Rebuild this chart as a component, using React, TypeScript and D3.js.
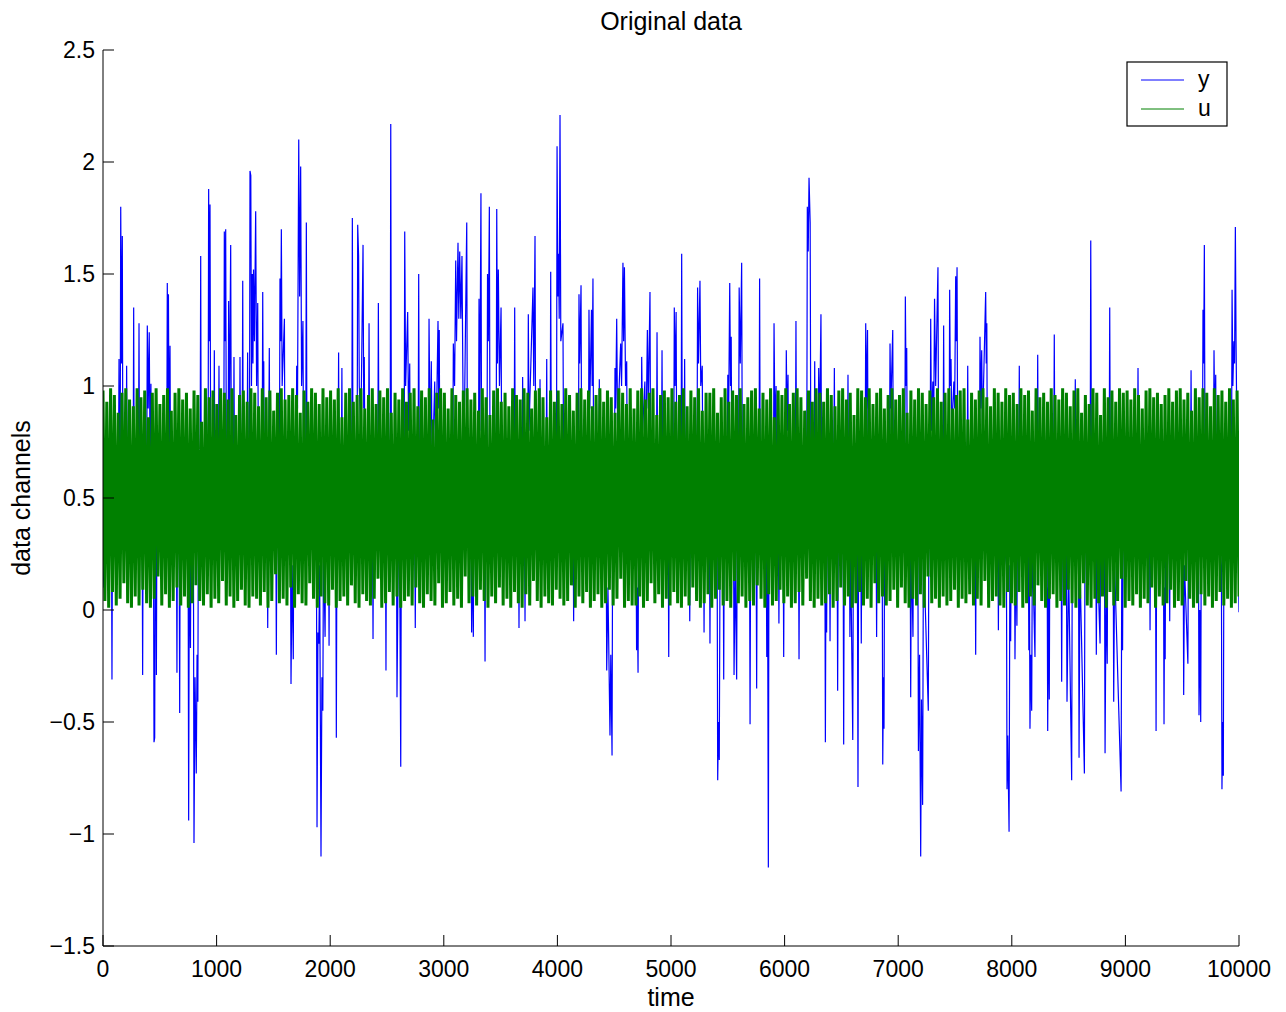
import React from 'react';
import * as d3 from 'd3';

// axis ticks
const xTicks = [0, 1000, 2000, 3000, 4000, 5000, 6000, 7000, 8000, 9000, 10000];
const yTicks = [-1.5, -1, -0.5, 0, 0.5, 1, 1.5, 2, 2.5];

const seriesNames = ['y', 'u'];
const seriesColors = ['#0000ff', '#008000'];

// output y: [time, value] samples (spikes, the rest sits under the green band)
const ySamples: [number, number][] = [
  [0, .1], [40, .5], [74, .45], [79, -.31], [84, .5],
  [136, .6], [141, 1.12], [146, .5], [151, .6], [156, 1.8], [163, 1.1], [170, 1.67], [175, .55],
  [203, .5], [208, 1.09], [213, .6], [265, .5], [270, 1.35], [275, .5], [312, .6], [317, 1.28], [322, .5],
  [344, .5], [349, -.29], [354, .5],
  [385, .6], [390, 1.27], [398, .9], [407, 1.24], [414, .7], [422, 1.01], [427, .5],
  [444, .4], [449, -.59], [455, -.57], [460, .4], [465, .5], [470, -.29], [475, .5],
  [561, .6], [566, 1.46], [571, .9], [576, 1.41], [582, .7], [590, 1.18], [595, .5],
  [646, .4], [651, -.28], [656, .5], [670, .4], [675, -.46], [680, .5],
  [749, .4], [754, -.94], [760, .3], [770, -.17], [775, .4], [796, .3], [801, -1.04], [810, -.3], [821, -.73], [828, -.2], [835, -.41], [840, .5],
  [855, .6], [860, 1.58], [865, .5],
  [925, .6], [930, 1.88], [936, 1.2], [942, 1.81], [948, .6],
  [975, .5], [980, 1.16], [985, .5], [1016, .6], [1021, 1.09], [1026, .5],
  [1063, .6], [1068, 1.69], [1074, 1.2], [1080, 1.7], [1086, .6],
  [1101, .6], [1106, 1.38], [1112, .8], [1124, 1.63], [1130, .6],
  [1148, .5], [1153, 1.13], [1158, .5], [1201, .5], [1206, 1.13], [1211, .6],
  [1225, .6], [1230, 1.47], [1235, .5], [1268, .6], [1273, 1.15], [1278, .6],
  [1289, .6], [1294, 1.96], [1301, 1.94], [1307, 1.0], [1314, 1.5], [1320, 1.1], [1325, 1.52], [1333, 1.2], [1344, 1.78], [1352, 1.0], [1362, 1.37], [1368, .6],
  [1401, .6], [1406, 1.42], [1411, .8], [1415, 1.11], [1420, .5],
  [1445, .4], [1450, -.08], [1457, .6], [1464, 1.17], [1469, .5],
  [1521, .4], [1526, -.2], [1531, .5],
  [1553, .6], [1558, 1.48], [1564, 1.2], [1570, 1.7], [1577, 1.0], [1597, 1.3], [1602, .5],
  [1650, .4], [1655, -.33], [1665, .2], [1675, -.22], [1680, .5],
  [1700, .6], [1705, 1.09], [1712, .9], [1723, 2.1], [1731, 1.4], [1740, 1.98], [1748, 1.0], [1760, 1.29], [1766, .6], [1785, .7], [1790, 1.73], [1796, .5],
  [1879, .3], [1884, -.97], [1892, -.1], [1900, -.15], [1907, .2], [1919, -1.1], [1927, -.3], [1935, -.45], [1941, .3], [1955, -.12], [1960, .4], [1985, .4], [1990, -.16], [1995, .5],
  [2049, .4], [2054, -.57], [2060, .5], [2069, .6], [2074, 1.15], [2079, .5],
  [2098, .6], [2103, 1.08], [2108, .5], [2190, .6], [2195, 1.75], [2201, .5],
  [2237, .6], [2242, 1.72], [2250, 1.58], [2256, 1.0], [2270, .8], [2289, 1.63], [2295, .9], [2300, 1.13], [2306, .6],
  [2337, .6], [2342, 1.28], [2348, .5], [2372, .4], [2377, -.13], [2382, .5],
  [2419, .6], [2424, 1.37], [2430, .5], [2486, .4], [2491, -.27], [2496, .5],
  [2528, .6], [2533, 2.17], [2539, .6],
  [2583, .4], [2588, -.39], [2600, .3], [2612, .2], [2621, -.7], [2627, .5],
  [2651, .6], [2656, 1.69], [2664, 1.0], [2682, 1.33], [2690, .8], [2700, 1.1], [2706, .5],
  [2744, .4], [2749, -.08], [2755, .5], [2774, .6], [2779, 1.5], [2785, .5],
  [2865, .6], [2870, 1.3], [2880, .7], [2890, 1.11], [2898, .6], [2920, 1.02], [2928, .6], [2949, 1.29], [2955, .9], [2960, 1.25], [2966, .5],
  [3079, .6], [3084, 1.19], [3095, 1.0], [3105, 1.56], [3112, 1.2], [3125, 1.64], [3132, 1.3], [3140, 1.6], [3150, 1.3], [3160, 1.58], [3170, .9], [3180, .8], [3202, 1.73], [3208, .6],
  [3240, .4], [3245, -.1], [3252, .3], [3260, -.12], [3265, .5],
  [3305, .6], [3310, 1.39], [3316, .8], [3327, 1.86], [3333, .6],
  [3358, .4], [3363, -.23], [3368, .5],
  [3380, .6], [3385, 1.5], [3392, 1.2], [3401, 1.8], [3407, .6],
  [3461, .6], [3466, 1.79], [3472, 1.1], [3480, 1.52], [3490, 1.0], [3504, 1.35], [3510, .6],
  [3619, .6], [3624, 1.35], [3630, .5], [3657, .4], [3662, -.08], [3668, .5],
  [3689, .6], [3694, 1.04], [3700, .5], [3710, .4], [3715, -.05], [3720, .5],
  [3739, .6], [3744, 1.32], [3750, .8], [3785, 1.44], [3792, 1.0], [3803, 1.67], [3809, .6],
  [3842, .6], [3847, 1.03], [3852, .5], [3901, .6], [3906, 1.12], [3911, .5],
  [3936, .6], [3941, 1.51], [3947, .6],
  [3992, .6], [3997, 2.07], [4004, 1.4], [4010, 1.59], [4016, 1.3], [4023, 2.21], [4030, 1.2], [4049, 1.28], [4055, .6],
  [4138, .4], [4143, -.05], [4148, .5],
  [4185, .6], [4190, 1.41], [4196, 1.1], [4208, 1.45], [4214, .6],
  [4273, .6], [4278, 1.34], [4285, .9], [4300, 1.34], [4306, 1.0], [4313, 1.48], [4319, .6],
  [4364, .6], [4369, 1.03], [4375, .5],
  [4429, .4], [4434, -.27], [4445, .1], [4463, -.56], [4470, -.2], [4481, -.65], [4487, .5],
  [4502, .6], [4507, 1.08], [4513, .9], [4522, 1.3], [4530, .8], [4557, 1.19], [4565, 1.0], [4577, 1.55], [4583, 1.2], [4590, 1.53], [4600, 1.0], [4610, 1.11], [4616, .5],
  [4692, .4], [4697, -.18], [4703, .1], [4710, -.28], [4716, .5],
  [4737, .6], [4742, 1.13], [4750, .8], [4770, 1.02], [4776, .6], [4792, 1.25], [4800, .9], [4815, 1.42], [4821, .6],
  [4872, .6], [4877, 1.24], [4883, .5], [4916, .6], [4921, 1.16], [4927, .5],
  [4975, .4], [4980, -.21], [4986, .5],
  [5024, .6], [5029, 1.35], [5036, 1.0], [5045, 1.33], [5051, .6],
  [5089, .6], [5094, 1.59], [5100, .6], [5115, .6], [5120, 1.12], [5126, .5],
  [5160, .4], [5165, -.05], [5171, .5],
  [5229, .6], [5234, 1.44], [5242, 1.1], [5255, 1.47], [5262, 1.0], [5275, 1.09], [5281, .5],
  [5286, .4], [5291, -.1], [5297, .5], [5338, .4], [5343, -.15], [5349, .5],
  [5406, .3], [5411, -.76], [5418, -.5], [5425, -.67], [5432, .3],
  [5459, .4], [5464, -.31], [5470, .5],
  [5495, .6], [5500, 1.05], [5508, .9], [5517, 1.46], [5524, 1.0], [5530, 1.22], [5536, .5],
  [5550, .4], [5555, -.29], [5565, .2], [5578, -.31], [5584, .5],
  [5595, .6], [5600, 1.44], [5610, 1.1], [5622, 1.55], [5628, .6],
  [5691, .4], [5696, -.51], [5702, .5], [5749, .4], [5754, -.35], [5760, .5],
  [5775, .6], [5780, 1.48], [5786, .5],
  [5838, .4], [5843, -.21], [5850, .2], [5857, -1.15], [5863, .5],
  [5902, .6], [5907, 1.28], [5915, .8], [5925, 1.0], [5931, .5],
  [5945, .4], [5950, -.06], [5956, .5], [5987, .4], [5992, -.21], [5998, .5],
  [6010, .6], [6015, 1.16], [6022, .8], [6030, 1.05], [6036, .5],
  [6095, .6], [6100, 1.29], [6106, .5], [6122, .4], [6127, -.22], [6133, .5],
  [6195, .6], [6200, 1.8], [6208, 1.6], [6215, 1.93], [6225, 1.73], [6231, .6],
  [6260, .6], [6265, 1.11], [6271, .5],
  [6295, .6], [6300, 1.08], [6308, .8], [6320, 1.32], [6326, .5],
  [6354, .4], [6359, -.59], [6364, .2], [6370, -.1], [6376, .5], [6395, .4], [6400, -.14], [6406, .5],
  [6433, .6], [6438, 1.08], [6444, .5], [6462, .4], [6467, -.36], [6473, .5],
  [6515, .4], [6520, -.6], [6526, .5], [6553, .6], [6558, 1.05], [6563, .5],
  [6570, .4], [6575, -.12], [6581, .3], [6600, -.58], [6606, .4], [6640, .3], [6646, -.79], [6652, .4], [6670, .4], [6675, -.15], [6681, .5],
  [6709, .6], [6714, 1.28], [6721, .9], [6730, 1.25], [6736, .5],
  [6805, .4], [6810, -.12], [6816, .5],
  [6859, .3], [6864, -.69], [6870, -.3], [6875, -.53], [6881, .5],
  [6923, .6], [6928, 1.19], [6935, .9], [6952, 1.25], [6958, .5],
  [7058, .6], [7063, 1.4], [7069, 1.0], [7075, 1.17], [7081, .5],
  [7105, .4], [7110, -.39], [7116, .3], [7130, -.12], [7136, .5],
  [7173, .3], [7178, -.63], [7188, -.2], [7198, -1.1], [7205, -.4], [7215, -.87], [7222, .3], [7265, -.45], [7271, .5],
  [7281, .6], [7286, 1.3], [7293, .8], [7305, 1.02], [7312, .8], [7320, 1.39], [7330, 1.0], [7350, 1.53], [7356, .6],
  [7395, .6], [7400, 1.27], [7406, .6],
  [7448, .6], [7453, 1.43], [7459, 1.0], [7465, 1.12], [7472, .8], [7490, 1.02], [7497, .9], [7506, 1.49], [7512, 1.2], [7518, 1.53], [7524, .6],
  [7607, .6], [7612, 1.09], [7618, .5], [7677, .4], [7682, -.2], [7688, .5],
  [7715, .6], [7720, 1.22], [7727, .9], [7735, 1.16], [7742, .8], [7770, 1.42], [7775, 1.1], [7780, 1.28], [7786, .5],
  [7877, .4], [7882, -.09], [7888, .5],
  [7953, .2], [7958, -.8], [7964, -.56], [7976, -.99], [7983, .2], [7990, -.14], [7996, .4],
  [8023, .4], [8028, -.22], [8036, .3], [8045, -.07], [8051, .5],
  [8061, .6], [8066, 1.09], [8072, .5],
  [8145, .4], [8150, -.18], [8155, .2], [8160, -.53], [8167, -.2], [8175, -.45], [8181, .3], [8204, -.21], [8210, .5],
  [8223, .6], [8228, 1.14], [8234, .5],
  [8311, .3], [8316, -.54], [8323, .1], [8330, -.4], [8336, .5],
  [8369, .6], [8374, 1.23], [8380, .5],
  [8434, .4], [8439, -.32], [8445, .4], [8480, .3], [8486, -.41], [8500, .2], [8527, -.76], [8533, .4],
  [8554, .6], [8559, 1.03], [8565, .5],
  [8587, .3], [8592, -.66], [8600, .2], [8639, -.73], [8645, .5],
  [8690, .6], [8695, 1.65], [8701, .6],
  [8739, .4], [8744, -.2], [8750, .3], [8777, -.15], [8783, .5],
  [8816, .3], [8821, -.64], [8830, .1], [8840, -.24], [8846, .5],
  [8857, .6], [8862, 1.35], [8868, .5],
  [8892, .4], [8897, -.41], [8905, .2], [8962, -.81], [8968, .2], [8975, -.18], [8981, .5],
  [9106, .6], [9111, 1.08], [9117, .5], [9212, .4], [9217, -.09], [9223, .5],
  [9265, .3], [9270, -.54], [9276, .5],
  [9335, .3], [9340, -.51], [9345, .1], [9350, -.22], [9356, .5], [9385, .4], [9390, -.05], [9396, .5],
  [9508, .4], [9513, -.38], [9520, .2], [9550, -.24], [9556, .5],
  [9573, .6], [9578, 1.07], [9584, .5],
  [9643, .3], [9648, -.47], [9655, .0], [9663, -.5], [9669, .5],
  [9678, .6], [9683, 1.34], [9689, 1.1], [9695, 1.63], [9701, .6],
  [9775, .6], [9780, 1.16], [9787, .8], [9795, 1.05], [9801, .5],
  [9845, .2], [9850, -.8], [9856, -.5], [9862, -.74], [9868, .5],
  [9934, .6], [9939, 1.43], [9946, 1.0], [9955, 1.2], [9961, 1.1], [9968, 1.71], [9974, 1.2], [9985, .6], [10000, -.01],
];

// input u: evenly spaced samples over 0..10000, alternating near the top and bottom of the band
const uValues = [
  .98, .04, .93, .01, .99, .08, .96, .02, .88, .05, .97, .12, .99, .03, .94, .01, .91, .06, .99, .02,
  .95, .09, .98, .03, .86, .01, .97, .05, .99, .15, .92, .02, .96, .07, .99, .01, .89, .04, .97, .1,
  .99, .02, .94, .06, .97, .01, .9, .03, .98, .11, .96, .04, .84, .02, .99, .07, .95, .01, .98, .05,
  .92, .03, .99, .13, .97, .02, .94, .06, .99, .01, .87, .04, .96, .09, .98, .02, .93, .01, .99, .06,
  .97, .05, .91, .02, .99, .08, .95, .01, .98, .04, .89, .16, .97, .03, .99, .05, .94, .02, .96, .1,
  .99, .01, .96, .07, .88, .03, .98, .02, .93, .12, .99, .05, .97, .01, .92, .06, .99, .03, .95, .02,
  .98, .09, .94, .01, .99, .04, .86, .06, .97, .02, .99, .11, .93, .03, .96, .01, .99, .07, .9, .04,
  .96, .02, .99, .05, .92, .14, .98, .01, .95, .03, .99, .08, .88, .02, .97, .06, .94, .01, .99, .04,
  .93, .06, .97, .02, .99, .1, .91, .03, .98, .01, .95, .07, .99, .04, .85, .02, .97, .12, .99, .01,
  .97, .03, .9, .08, .99, .02, .96, .05, .93, .01, .98, .15, .99, .03, .94, .06, .97, .02, .89, .09,
  .99, .04, .95, .01, .87, .06, .98, .03, .99, .1, .93, .02, .97, .05, .91, .01, .99, .08, .96, .03,
  .94, .01, .99, .07, .97, .02, .9, .13, .98, .04, .99, .01, .95, .06, .86, .03, .98, .02, .93, .09,
  .98, .05, .92, .02, .99, .04, .96, .11, .89, .01, .97, .06, .99, .03, .94, .08, .98, .01, .91, .04,
  .96, .07, .99, .01, .93, .03, .98, .09, .95, .02, .88, .05, .99, .14, .97, .01, .92, .04, .99, .02,
  .9, .02, .98, .06, .99, .01, .94, .04, .97, .12, .99, .03, .87, .07, .96, .01, .98, .05, .95, .02,
  .99, .08, .93, .03, .96, .01, .99, .06, .91, .02, .98, .1, .95, .04, .99, .01, .89, .03, .97, .07,
  .97, .01, .99, .05, .88, .09, .95, .02, .99, .04, .93, .01, .98, .13, .96, .03, .99, .06, .92, .01,
  .95, .04, .98, .02, .99, .11, .9, .05, .97, .01, .94, .07, .99, .02, .86, .04, .98, .09, .96, .03,
  .99, .06, .92, .01, .97, .03, .99, .08, .95, .02, .89, .14, .98, .04, .93, .01, .99, .05, .97, .02,
  .93, .03, .99, .07, .96, .01, .91, .04, .98, .1, .99, .02, .94, .06, .97, .01, .87, .03, .99, .08,
  .98, .02, .95, .05, .99, .01, .92, .12, .97, .03, .99, .06, .9, .02, .96, .04, .99, .09, .94, .01,
  .96, .1, .99, .03, .88, .01, .98, .05, .94, .02, .99, .07, .97, .01, .92, .15, .98, .03, .95, .05,
  .99, .01, .93, .06, .97, .02, .99, .04, .9, .09, .96, .01, .98, .05, .99, .03, .85, .07, .97, .02,
  .94, .05, .98, .02, .99, .13, .95, .01, .91, .04, .99, .06, .97, .02, .93, .01, .99, .08, .96, .03,
  .97, .02, .92, .08, .99, .01, .96, .03, .98, .06, .89, .02, .99, .11, .95, .04, .97, .01, .93, .05,
  .99, .07, .96, .01, .94, .04, .99, .02, .97, .09, .91, .03, .98, .01, .99, .05, .88, .12, .96, .02,
  .92, .01, .99, .05, .97, .03, .87, .06, .99, .01, .95, .08, .98, .02, .93, .04, .99, .14, .97, .01,
  .98, .04, .94, .02, .99, .07, .96, .01, .9, .05, .98, .03, .99, .1, .95, .01, .97, .06, .92, .02,
  .96, .03, .99, .09, .93, .01, .98, .04, .99, .02, .94, .13, .97, .05, .89, .01, .99, .03, .95, .07,
  .99, .02, .97, .06, .91, .01, .99, .04, .96, .08, .98, .02, .93, .05, .99, .01, .94, .03, .98, .06,
];

const W = 1286;
const H = 1012;
const left = 103;
const right = 1239;
const top = 50;
const bottom = 946;
const font = "'Liberation Sans', Arial, Helvetica, sans-serif";

const fmt = (v: number) => String(v).replace('-', '\u2212');

export default function App() {
  const x = d3.scaleLinear().domain([0, 10000]).range([left, right]);
  const y = d3.scaleLinear().domain([-1.5, 2.5]).range([bottom, top]);

  const uSamples: [number, number][] = uValues.map((v, i) => [(i * 10000) / (uValues.length - 1), v]);

  const line = d3
    .line<[number, number]>()
    .x((d) => x(d[0]))
    .y((d) => y(d[1]));

  return (
    <svg
      width={W}
      height={H}
      style={{ position: 'absolute', left: 0, top: 0, background: '#fff' }}
      fontFamily={font}
    >
      <defs>
        <clipPath id="plotClip">
          <rect x={left} y={top} width={right - left} height={bottom - top} />
        </clipPath>
      </defs>

      <g clipPath="url(#plotClip)">
        <path d={line(ySamples) || ''} fill="none" stroke={seriesColors[0]} strokeWidth={1.2} />
        <path
          d={line(uSamples) || ''}
          fill="none"
          stroke={seriesColors[1]}
          strokeWidth={3}
          strokeLinejoin="bevel"
        />
      </g>

      {/* axes */}
      <line x1={left} x2={left} y1={top} y2={bottom} stroke="#000" strokeWidth={1} />
      <line x1={left} x2={right} y1={bottom} y2={bottom} stroke="#000" strokeWidth={1} />

      {yTicks.map((t) => (
        <g key={'y' + t}>
          <line x1={left} x2={left + 11} y1={y(t)} y2={y(t)} stroke="#000" strokeWidth={1} />
          <text x={left - 8} y={y(t) + 8} textAnchor="end" fontSize={23} fill="#000">
            {fmt(t)}
          </text>
        </g>
      ))}
      {xTicks.map((t) => (
        <g key={'x' + t}>
          <line x1={x(t)} x2={x(t)} y1={bottom} y2={bottom - 11} stroke="#000" strokeWidth={1} />
          <text x={x(t)} y={977} textAnchor="middle" fontSize={23} fill="#000">
            {fmt(t)}
          </text>
        </g>
      ))}

      <text x={(left + right) / 2} y={30} textAnchor="middle" fontSize={25} fill="#000">
        Original data
      </text>
      <text x={(left + right) / 2} y={1006} textAnchor="middle" fontSize={25} fill="#000">
        time
      </text>
      <text
        transform={`translate(30, ${(top + bottom) / 2}) rotate(-90)`}
        textAnchor="middle"
        fontSize={25}
        fill="#000"
      >
        data channels
      </text>

      {/* legend */}
      <rect x={1127} y={62} width={100} height={64} fill="#fff" stroke="#000" strokeWidth={1.2} />
      {seriesNames.map((name, i) => (
        <g key={name}>
          <line
            x1={1141}
            x2={1184}
            y1={80 + i * 29}
            y2={80 + i * 29}
            stroke={seriesColors[i]}
            strokeWidth={1}
          />
          <text x={1198} y={87 + i * 29} fontSize={23} fill="#000">
            {name}
          </text>
        </g>
      ))}
    </svg>
  );
}
